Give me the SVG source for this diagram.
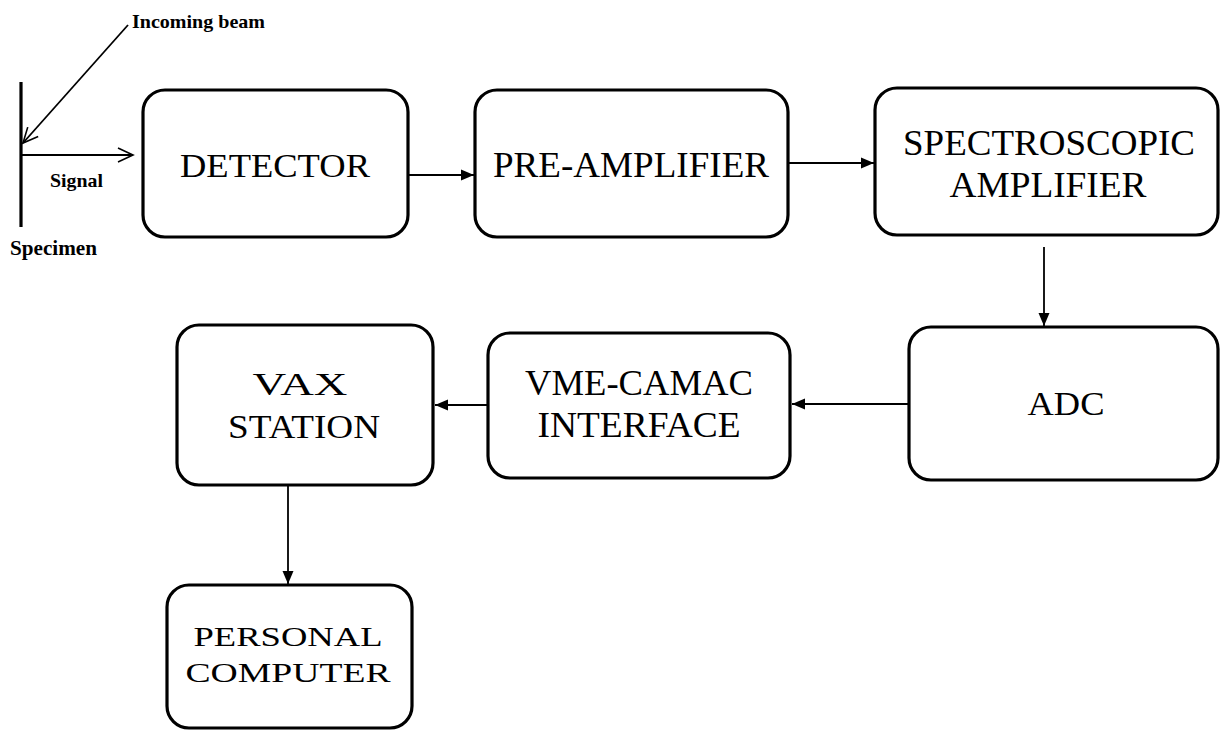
<svg xmlns="http://www.w3.org/2000/svg" width="1220" height="731" viewBox="0 0 1220 731">
<style>
.box{fill:#fff;stroke:#000;stroke-width:3.2}
.t{font-family:"Liberation Serif","Times New Roman",serif;fill:#000;text-anchor:middle}
.lbl{font-family:"Liberation Serif","Times New Roman",serif;font-weight:bold;fill:#000}
.c{stroke:#000;stroke-width:1.8;fill:none}
</style>
<defs>
<marker id="solid" markerUnits="userSpaceOnUse" markerWidth="14" markerHeight="12" refX="13" refY="6" orient="auto">
<path d="M0,0.5 L13,6 L0,11.5 z" fill="#000"/>
</marker>
<marker id="open" markerUnits="userSpaceOnUse" markerWidth="18" markerHeight="18" refX="16" refY="9" orient="auto">
<path d="M1,2 L16,9 L1,16" fill="none" stroke="#000" stroke-width="1.6"/>
</marker>
</defs>
<rect width="1220" height="731" fill="#fff"/>

<g id="specimen">
<line x1="21" y1="82" x2="21" y2="227" stroke="#000" stroke-width="3.2"/>
<text class="lbl" x="10" y="255" font-size="20" textLength="87" lengthAdjust="spacingAndGlyphs">Specimen</text>
</g>
<g id="beam-labels">
<text class="lbl" x="132" y="28" font-size="19" textLength="133" lengthAdjust="spacingAndGlyphs">Incoming beam</text>
<text class="lbl" x="50" y="187" font-size="19" textLength="53" lengthAdjust="spacingAndGlyphs">Signal</text>
</g>

<g id="connectors">
<line class="c" x1="128" y1="25" x2="23" y2="143" marker-end="url(#open)"/>
<line class="c" x1="22" y1="155" x2="133" y2="155" marker-end="url(#open)"/>
<line class="c" x1="408" y1="175" x2="474" y2="175" marker-end="url(#solid)"/>
<line class="c" x1="788" y1="163" x2="874" y2="163" marker-end="url(#solid)"/>
<line class="c" x1="1044" y1="247" x2="1044" y2="326" marker-end="url(#solid)"/>
<line class="c" x1="909" y1="404" x2="792" y2="404" marker-end="url(#solid)"/>
<line class="c" x1="488" y1="405" x2="435" y2="405" marker-end="url(#solid)"/>
<line class="c" x1="288" y1="485" x2="288" y2="584" marker-end="url(#solid)"/>
</g>

<g id="detector">
<rect class="box" x="143" y="90" width="265" height="147" rx="22"/>
<text class="t" x="275" y="177" font-size="34" textLength="190" lengthAdjust="spacingAndGlyphs">DETECTOR</text>
</g>
<g id="preamplifier">
<rect class="box" x="475" y="90" width="313" height="147" rx="22"/>
<text class="t" x="631" y="177" font-size="36" textLength="276" lengthAdjust="spacingAndGlyphs">PRE-AMPLIFIER</text>
</g>
<g id="spectroscopic-amplifier">
<rect class="box" x="875" y="88" width="343" height="147" rx="22"/>
<text class="t" x="1049" y="155" font-size="36" textLength="292" lengthAdjust="spacingAndGlyphs">SPECTROSCOPIC</text>
<text class="t" x="1048" y="197" font-size="36" textLength="197" lengthAdjust="spacingAndGlyphs">AMPLIFIER</text>
</g>
<g id="adc">
<rect class="box" x="909" y="327" width="309" height="153" rx="22"/>
<text class="t" x="1066" y="415" font-size="34" textLength="77" lengthAdjust="spacingAndGlyphs">ADC</text>
</g>
<g id="vme-camac">
<rect class="box" x="488" y="333" width="302" height="145" rx="22"/>
<text class="t" x="639" y="395" font-size="35" textLength="228" lengthAdjust="spacingAndGlyphs">VME-CAMAC</text>
<text class="t" x="639" y="437" font-size="35" textLength="203" lengthAdjust="spacingAndGlyphs">INTERFACE</text>
</g>
<g id="vax-station">
<rect class="box" x="177" y="325" width="256" height="160" rx="22"/>
<text class="t" x="300" y="395" font-size="31" textLength="95" lengthAdjust="spacingAndGlyphs">VAX</text>
<text class="t" x="304" y="438" font-size="33" textLength="152" lengthAdjust="spacingAndGlyphs">STATION</text>
</g>
<g id="personal-computer">
<rect class="box" x="167" y="585" width="245" height="143" rx="22"/>
<text class="t" x="288" y="646" font-size="27" textLength="189" lengthAdjust="spacingAndGlyphs">PERSONAL</text>
<text class="t" x="288" y="682" font-size="27" textLength="205" lengthAdjust="spacingAndGlyphs">COMPUTER</text>
</g>
</svg>
